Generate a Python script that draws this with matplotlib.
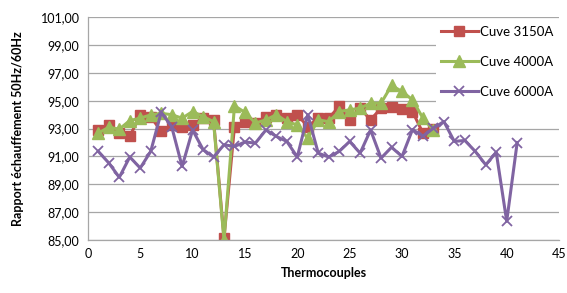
import matplotlib
matplotlib.use('Agg')
import matplotlib.pyplot as plt

plt.rcParams['font.family'] = ['Lato', 'DejaVu Sans']

# Data
x_3150 = list(range(1, 34))
cuve_3150 = [92.9, 93.27, 92.68, 92.44, 94.0, 93.87, 92.8, 93.27, 93.15, 93.27,
             93.75, 93.63, 85.15, 93.15, 93.5, 93.4, 93.87, 94.0, 93.75, 94.0,
             93.15, 93.75, 93.75, 94.59, 93.63, 94.47, 93.63, 94.47, 94.56, 94.4,
             94.23, 92.68, 92.95]

x_4000 = list(range(1, 34))
cuve_4000 = [92.68, 93.1, 92.96, 93.58, 93.75, 93.99, 94.1, 94.0, 93.75, 94.23,
             93.87, 93.5, 85.0, 94.64, 94.17, 93.4, 93.63, 94.0, 93.5, 93.27,
             92.3, 93.63, 93.5, 94.23, 94.35, 94.47, 94.83, 94.83, 96.1, 95.67,
             95.07, 93.75, 92.9]

x_6000 = list(range(1, 42))
cuve_6000 = [91.36, 90.53, 89.5, 90.96, 90.17, 91.36, 94.16, 93.15, 90.28, 92.9,
             91.5, 90.96, 91.84, 91.72, 92.04, 91.96, 92.9, 92.44, 92.08, 90.96,
             94.0, 91.24, 90.96, 91.36, 92.08, 91.24, 92.9, 90.88, 91.66, 91.0,
             92.93, 92.46, 93.03, 93.51, 92.08, 92.15, 91.36, 90.4, 91.3, 86.34,
             92.0]

labels = ['Cuve 3150A', 'Cuve 4000A', 'Cuve 6000A']
y_ticks = [85, 87, 89, 91, 93, 95, 97, 99, 101]
x_ticks = [0, 5, 10, 15, 20, 25, 30, 35, 40, 45]

RED = '#C0504D'
GREEN = '#9BBB59'
PURPLE = '#8064A2'

fig = plt.figure(figsize=(5.67, 2.93), dpi=100)
ax = fig.add_axes([0.155, 0.181, 0.831, 0.76])

ax.plot(x_3150, cuve_3150, color=RED, lw=2.2, marker='s', markersize=7,
        label=labels[0])
ax.plot(x_4000, cuve_4000, color=GREEN, lw=2.2, marker='^', markersize=8,
        label=labels[1])
ax.plot(x_6000, cuve_6000, color=PURPLE, lw=2.2, marker='x', markersize=7.5,
        markeredgewidth=1.3, label=labels[2])

ax.set_xlim(0, 45)
ax.set_ylim(85, 101)
ax.set_xticks(x_ticks)
ax.set_yticks(y_ticks)
ax.set_yticklabels([f'{v:.2f}'.replace('.', ',') for v in y_ticks])
ax.tick_params(length=0, labelsize=9, colors='#000000', pad=6)
ax.yaxis.grid(True, color='#A6A6A6', lw=0.9)
ax.set_axisbelow(True)

for side in ('top', 'right'):
    ax.spines[side].set_visible(False)
for side in ('left', 'bottom'):
    ax.spines[side].set_color('#A6A6A6')
    ax.spines[side].set_linewidth(0.9)

ax.set_xlabel('Thermocouples', fontsize=9, fontweight='bold', labelpad=5)
ax.set_ylabel('Rapport échauffement 50Hz/60Hz', fontsize=9, fontweight='bold',
              labelpad=12)

leg = ax.legend(loc='upper right', bbox_to_anchor=(1.0, 0.985), fontsize=9.5,
                frameon=True, fancybox=False, edgecolor='none', facecolor='white',
                framealpha=1, handlelength=2.8, handletextpad=0.2,
                labelspacing=1.35, borderpad=0.4, borderaxespad=0)

fig.savefig('out.png', dpi=100)
